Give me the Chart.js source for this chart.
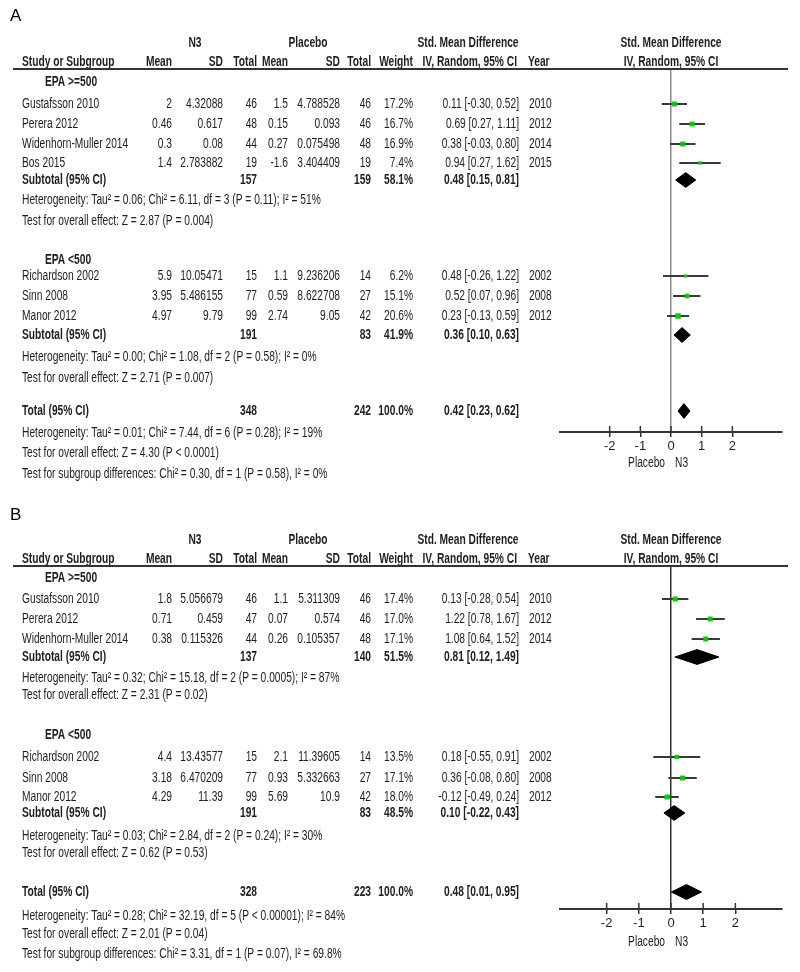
<!DOCTYPE html>
<html>
<head>
<meta charset="utf-8">
<script src="https://cdn.jsdelivr.net/npm/chart.js@4.4.0/dist/chart.umd.min.js"></script>
<style>
  html, body { margin: 0; padding: 0; background: #fff; }
  canvas { display: block; }
</style>
</head>
<body>
<canvas id="chartA" width="800" height="486"></canvas>
<canvas id="chartB" width="800" height="486"></canvas>
<script>
// --- Panel A data ---
const studiesA = ['Gustafsson 2010', 'Perera 2012', 'Widenhorn-Muller 2014', 'Bos 2015', 'Richardson 2002', 'Sinn 2008', 'Manor 2012'];
const n3MeanA = [2, 0.46, 0.3, 1.4, 5.9, 3.95, 4.97];
const n3SdA = [4.32088, 0.617, 0.08, 2.783882, 10.05471, 5.486155, 9.79];
const n3TotalA = [46, 48, 44, 19, 15, 77, 99];
const plMeanA = [1.5, 0.15, 0.27, -1.6, 1.1, 0.59, 2.74];
const plSdA = [4.788528, 0.093, 0.075498, 3.404409, 9.236206, 8.622708, 9.05];
const plTotalA = [46, 46, 48, 19, 14, 27, 42];
const weightA = [17.2, 16.7, 16.9, 7.4, 6.2, 15.1, 20.6];
const smdA = [0.11, 0.69, 0.38, 0.94, 0.48, 0.52, 0.23];
const lowA = [-0.30, 0.27, -0.03, 0.27, -0.26, 0.07, -0.13];
const highA = [0.52, 1.11, 0.80, 1.62, 1.22, 0.96, 0.59];
const yearA = [2010, 2012, 2014, 2015, 2002, 2008, 2012];
// pooled results: [EPA >=500 subtotal, EPA <500 subtotal, Total]
const pooledN3A = [157, 191, 348];
const pooledPlA = [159, 83, 242];
const pooledWeightA = [58.1, 41.9, 100.0];
const pooledSmdA = [0.48, 0.36, 0.42];
const pooledLowA = [0.15, 0.10, 0.23];
const pooledHighA = [0.81, 0.63, 0.62];
const hetA = [
    'Heterogeneity: Tau\u00b2 = 0.06; Chi\u00b2 = 6.11, df = 3 (P = 0.11); I\u00b2 = 51%',
    'Heterogeneity: Tau\u00b2 = 0.00; Chi\u00b2 = 1.08, df = 2 (P = 0.58); I\u00b2 = 0%',
    'Heterogeneity: Tau\u00b2 = 0.01; Chi\u00b2 = 7.44, df = 6 (P = 0.28); I\u00b2 = 19%'
];
const overallA = [
    'Test for overall effect: Z = 2.87 (P = 0.004)',
    'Test for overall effect: Z = 2.71 (P = 0.007)',
    'Test for overall effect: Z = 4.30 (P < 0.0001)'
];
const subgroupDiffA = 'Test for subgroup differences: Chi\u00b2 = 0.30, df = 1 (P = 0.58), I\u00b2 = 0%';

// --- Panel B data ---
const studiesB = ['Gustafsson 2010', 'Perera 2012', 'Widenhorn-Muller 2014', 'Richardson 2002', 'Sinn 2008', 'Manor 2012'];
const n3MeanB = [1.8, 0.71, 0.38, 4.4, 3.18, 4.29];
const n3SdB = [5.056679, 0.459, 0.115326, 13.43577, 6.470209, 11.39];
const n3TotalB = [46, 47, 44, 15, 77, 99];
const plMeanB = [1.1, 0.07, 0.26, 2.1, 0.93, 5.69];
const plSdB = [5.311309, 0.574, 0.105357, 11.39605, 5.332663, 10.9];
const plTotalB = [46, 46, 48, 14, 27, 42];
const weightB = [17.4, 17.0, 17.1, 13.5, 17.1, 18.0];
const smdB = [0.13, 1.22, 1.08, 0.18, 0.36, -0.12];
const lowB = [-0.28, 0.78, 0.64, -0.55, -0.08, -0.49];
const highB = [0.54, 1.67, 1.52, 0.91, 0.80, 0.24];
const yearB = [2010, 2012, 2014, 2002, 2008, 2012];
const pooledN3B = [137, 191, 328];
const pooledPlB = [140, 83, 223];
const pooledWeightB = [51.5, 48.5, 100.0];
const pooledSmdB = [0.81, 0.10, 0.48];
const pooledLowB = [0.12, -0.22, 0.01];
const pooledHighB = [1.49, 0.43, 0.95];
const hetB = [
    'Heterogeneity: Tau\u00b2 = 0.32; Chi\u00b2 = 15.18, df = 2 (P = 0.0005); I\u00b2 = 87%',
    'Heterogeneity: Tau\u00b2 = 0.03; Chi\u00b2 = 2.84, df = 2 (P = 0.24); I\u00b2 = 30%',
    'Heterogeneity: Tau\u00b2 = 0.28; Chi\u00b2 = 32.19, df = 5 (P < 0.00001); I\u00b2 = 84%'
];
const overallB = [
    'Test for overall effect: Z = 2.31 (P = 0.02)',
    'Test for overall effect: Z = 0.62 (P = 0.53)',
    'Test for overall effect: Z = 2.01 (P = 0.04)'
];
const subgroupDiffB = 'Test for subgroup differences: Chi\u00b2 = 3.31, df = 1 (P = 0.07), I\u00b2 = 69.8%';

const subgroups = ['EPA >=500', 'EPA <500'];
const axisTicks = [-2, -1, 0, 1, 2];

// --- Styling / layout ---
const TEXT = '#1e1e1e';
const FONT = '"Liberation Sans", Arial, sans-serif';
const SQUEEZE = 0.73;   // the original uses a narrow face
const SIZE = 14;
const COL = { name: 22, head: 45, mean: 172, sd: 223, tot: 257, pmean: 288, psd: 340, ptot: 371, wt: 413, ci: 519, year: 529 };

function text(ctx, s, x, y, align, bold) {
    ctx.save();
    ctx.font = (bold ? 'bold ' : '') + SIZE + 'px ' + FONT;
    ctx.textAlign = align || 'left';
    ctx.textBaseline = 'middle';
    ctx.fillStyle = TEXT;
    ctx.scale(SQUEEZE, 1);
    ctx.fillText(s, x / SQUEEZE, y);
    ctx.restore();
}

const ciLabel = (m, l, h) => `${m.toFixed(2)} [${l.toFixed(2)}, ${h.toFixed(2)}]`;

function makePanel(id, d, lay) {
    // CI whiskers, broken by null points
    const ciData = [];
    lay.studyRows.forEach((r, i) => {
        ciData.push({ x: d.low[i], y: r }, { x: d.high[i], y: r }, { x: null, y: null });
    });

    const squares = lay.studyRows.map((r, i) => ({ x: d.smd[i], y: r }));

    const diamonds = lay.pooledRows.map((r, i) => ({
        type: 'scatter',
        showLine: true,
        fill: 'shape',
        order: 3,
        data: [
            { x: d.pLow[i], y: r },
            { x: d.pSmd[i], y: r - 0.37 },
            { x: d.pHigh[i], y: r },
            { x: d.pSmd[i], y: r + 0.37 },
            { x: d.pLow[i], y: r }
        ],
        backgroundColor: '#000',
        borderColor: '#000',
        borderWidth: 1,
        pointRadius: 0
    }));

    const tablePlugin = {
        id: 'table' + id,
        afterDraw(chart) {
            const ctx = chart.ctx;
            const ys = chart.scales.y;
            const xs = chart.scales.x;
            const top = chart.chartArea.top;
            const axisY = chart.chartArea.bottom;
            const Y = v => ys.getPixelForValue(v);

            // panel letter
            ctx.save();
            ctx.font = '17px ' + FONT;
            ctx.fillStyle = '#000';
            ctx.textBaseline = 'middle';
            ctx.fillText(lay.letter, 10, lay.letterY);
            ctx.restore();

            // headers
            const h1 = top - 26, h2 = top - 7;
            text(ctx, 'N3', 195, h1, 'center', true);
            text(ctx, 'Placebo', 308, h1, 'center', true);
            text(ctx, 'Std. Mean Difference', 468, h1, 'center', true);
            text(ctx, 'Std. Mean Difference', 671, h1, 'center', true);
            text(ctx, 'Study or Subgroup', COL.name, h2, 'left', true);
            text(ctx, 'Mean', COL.mean, h2, 'right', true);
            text(ctx, 'SD', COL.sd, h2, 'right', true);
            text(ctx, 'Total', COL.tot, h2, 'right', true);
            text(ctx, 'Mean', COL.pmean, h2, 'right', true);
            text(ctx, 'SD', COL.psd, h2, 'right', true);
            text(ctx, 'Total', COL.ptot, h2, 'right', true);
            text(ctx, 'Weight', COL.wt, h2, 'right', true);
            text(ctx, 'IV, Random, 95% CI', 517, h2, 'right', true);
            text(ctx, 'Year', 528, h2, 'left', true);
            text(ctx, 'IV, Random, 95% CI', 671, h2, 'center', true);

            // header rule
            ctx.save();
            ctx.strokeStyle = '#333';
            ctx.lineWidth = 2;
            ctx.beginPath();
            ctx.moveTo(13, top);
            ctx.lineTo(788, top);
            ctx.stroke();
            ctx.restore();

            // subgroup headings
            lay.headRows.forEach((r, g) => text(ctx, subgroups[g], COL.head, Y(r), 'left', true));

            // study rows
            lay.studyRows.forEach((r, i) => {
                const y = Y(r);
                text(ctx, d.names[i], COL.name, y);
                text(ctx, String(d.n3Mean[i]), COL.mean, y, 'right');
                text(ctx, String(d.n3Sd[i]), COL.sd, y, 'right');
                text(ctx, String(d.n3Total[i]), COL.tot, y, 'right');
                text(ctx, String(d.plMean[i]), COL.pmean, y, 'right');
                text(ctx, String(d.plSd[i]), COL.psd, y, 'right');
                text(ctx, String(d.plTotal[i]), COL.ptot, y, 'right');
                text(ctx, d.weight[i].toFixed(1) + '%', COL.wt, y, 'right');
                text(ctx, ciLabel(d.smd[i], d.low[i], d.high[i]), COL.ci, y, 'right');
                text(ctx, String(d.year[i]), COL.year, y, 'left');
            });

            // subtotals and total
            lay.pooledRows.forEach((r, k) => {
                const y = Y(r);
                text(ctx, k < 2 ? 'Subtotal (95% CI)' : 'Total (95% CI)', COL.name, y, 'left', true);
                text(ctx, String(d.pN3[k]), COL.tot, y, 'right', true);
                text(ctx, String(d.pPl[k]), COL.ptot, y, 'right', true);
                text(ctx, d.pWeight[k].toFixed(1) + '%', COL.wt, y, 'right', true);
                text(ctx, ciLabel(d.pSmd[k], d.pLow[k], d.pHigh[k]), COL.ci, y, 'right', true);
            });

            lay.hetRows.forEach((r, k) => text(ctx, d.het[k], COL.name, Y(r)));
            lay.testRows.forEach((r, k) => text(ctx, d.overall[k], COL.name, Y(r)));
            text(ctx, d.diff, COL.name, Y(lay.diffRow));

            // tick marks crossing the axis line (upper half)
            ctx.save();
            ctx.strokeStyle = '#333';
            ctx.lineWidth = 1.5;
            axisTicks.forEach(v => {
                const x = xs.getPixelForValue(v);
                ctx.beginPath();
                ctx.moveTo(x, axisY - 6);
                ctx.lineTo(x, axisY);
                ctx.stroke();
            });
            ctx.restore();

            // favours labels
            const x0 = xs.getPixelForValue(0);
            text(ctx, 'Placebo', x0 - 6, axisY + lay.favY, 'right');
            text(ctx, 'N3', x0 + 4, axisY + lay.favY, 'left');
        }
    };

    return new Chart(document.getElementById(id), {
        type: 'scatter',
        data: {
            datasets: [
                {
                    // study point estimates, drawn above the whiskers
                    type: 'scatter',
                    order: 1,
                    data: squares,
                    pointStyle: 'rect',
                    pointRadius: c => 1.6 + d.weight[c.dataIndex] * 0.11,
                    backgroundColor: '#00d000',
                    borderWidth: 0
                },
                {
                    type: 'scatter',
                    order: 2,
                    showLine: true,
                    spanGaps: false,
                    data: ciData,
                    borderColor: '#3a3a3a',
                    borderWidth: 2,
                    pointRadius: 0
                },
                ...diamonds
            ]
        },
        options: {
            responsive: false,
            animation: false,
            events: [],
            layout: { padding: { left: 560, right: 18, top: lay.top, bottom: 486 - lay.axis - 30 } },
            plugins: { legend: { display: false }, tooltip: { enabled: false } },
            scales: {
                x: {
                    type: 'linear',
                    min: -lay.xRange,
                    max: lay.xRange,
                    afterBuildTicks: s => { s.ticks = axisTicks.map(v => ({ value: v })); },
                    afterFit: s => { s.height = 30; },
                    ticks: {
                        color: TEXT,
                        padding: 2,
                        font: { family: '"Liberation Sans Narrow", "Liberation Sans", Arial, sans-serif', size: 13 },
                        callback: v => String(v)
                    },
                    grid: {
                        drawOnChartArea: true,
                        color: c => (c.tick && c.tick.value === 0) ? lay.zeroColor : 'rgba(0,0,0,0)',
                        lineWidth: 1.5,
                        tickLength: 5,
                        tickColor: '#333',
                        tickWidth: 1.5
                    },
                    border: { display: true, color: '#333', width: 2 }
                },
                y: { type: 'linear', reverse: true, min: 0, max: lay.yMax, display: false }
            }
        },
        plugins: [tablePlugin]
    });
}

makePanel('chartA', {
    names: studiesA, n3Mean: n3MeanA, n3Sd: n3SdA, n3Total: n3TotalA,
    plMean: plMeanA, plSd: plSdA, plTotal: plTotalA, weight: weightA,
    smd: smdA, low: lowA, high: highA, year: yearA,
    pN3: pooledN3A, pPl: pooledPlA, pWeight: pooledWeightA,
    pSmd: pooledSmdA, pLow: pooledLowA, pHigh: pooledHighA,
    het: hetA, overall: overallA, diff: subgroupDiffA
}, {
    letter: 'A', letterY: 16, top: 69, axis: 432, xRange: 3.62, yMax: 18.15,
    zeroColor: '#8c8c8c', favY: 31,
    headRows: [0.65, 9.55],
    studyRows: [1.75, 2.75, 3.75, 4.7, 10.35, 11.35, 12.35],
    pooledRows: [5.55, 13.3, 17.1],
    hetRows: [6.55, 14.4, 18.2],
    testRows: [7.6, 15.45, 19.2],
    diffRow: 20.25
});

makePanel('chartB', {
    names: studiesB, n3Mean: n3MeanB, n3Sd: n3SdB, n3Total: n3TotalB,
    plMean: plMeanB, plSd: plSdB, plTotal: plTotalB, weight: weightB,
    smd: smdB, low: lowB, high: highB, year: yearB,
    pN3: pooledN3B, pPl: pooledPlB, pWeight: pooledWeightB,
    pSmd: pooledSmdB, pLow: pooledLowB, pHigh: pooledHighB,
    het: hetB, overall: overallB, diff: subgroupDiffB
}, {
    letter: 'B', letterY: 29, top: 80, axis: 423, xRange: 3.45, yMax: 17.15,
    zeroColor: '#333', favY: 33,
    headRows: [0.6, 8.45],
    studyRows: [1.65, 2.65, 3.65, 9.55, 10.6, 11.55],
    pooledRows: [4.55, 12.35, 16.3],
    hetRows: [5.6, 13.5, 17.5],
    testRows: [6.45, 14.35, 18.4],
    diffRow: 19.4
});
</script>
</body>
</html>
